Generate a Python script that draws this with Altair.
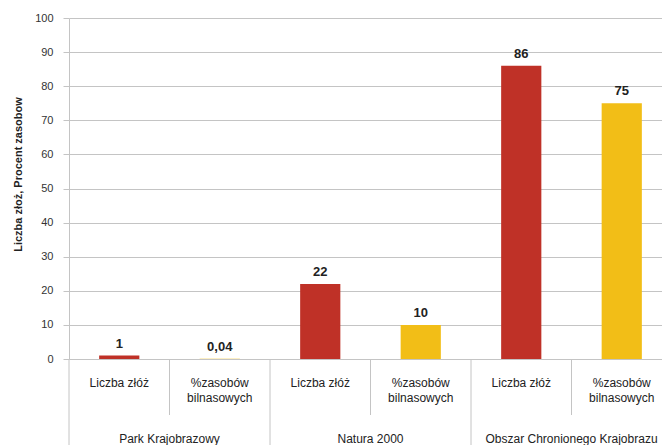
import altair as alt
import pandas as pd

# Data
groups = ["Park Krajobrazowy", "Natura 2000", "Obszar Chronionego Krajobrazu"]
measures = ["Liczba złóż", "%zasobów bilnasowych"]
measure_line1 = ["Liczba złóż", "%zasobów"]
measure_line2 = ["", "bilnasowych"]
values = [
    [1, 0.04],   # Park Krajobrazowy
    [22, 10],    # Natura 2000
    [86, 75],    # Obszar Chronionego Krajobrazu
]
y_ticks = [0, 10, 20, 30, 40, 50, 60, 70, 80, 90, 100]
colors = ["#BF3127", "#F2BE17"]

W, H = 593, 341
UNIT = 100.5  # pixels per category slot
X_MAX = W / UNIT
FONT = "Liberation Sans, Arial, sans-serif"
GRID = "#c4c4c4"

rows = []
for gi, g in enumerate(groups):
    for mi, m in enumerate(measures):
        rows.append({
            "group": g,
            "measure": m,
            "line1": measure_line1[mi],
            "line2": measure_line2[mi],
            "value": values[gi][mi],
            "pos": gi * 2 + mi + 0.5,
        })
df = pd.DataFrame(rows)

group_df = pd.DataFrame({"group": groups, "pos": [1.0, 3.0, 5.0]})
short_sep = pd.DataFrame({"b": [1.0, 3.0, 5.0]})
long_sep = pd.DataFrame({"b": [0.0, 2.0, 4.0]})

xs = alt.Scale(domain=[0, X_MAX], nice=False, zero=False)
ys = alt.Scale(domain=[0, 100], nice=False)

y_axis = alt.Axis(
    values=y_ticks,
    title="Liczba złoż, Procent zasobow",
    titleFont=FONT,
    titleFontSize=11,
    titleFontWeight="bold",
    titleColor="#222222",
    titleX=-51,
    titleY=156,
    titleAngle=-90,
    titleAlign="center",
    titleBaseline="middle",
    labelFont=FONT,
    labelFontSize=11,
    labelColor="#333333",
    labelPadding=10,
    labelOverlap=False,
    tickSize=6,
    tickColor=GRID,
    domainColor=GRID,
    gridColor=GRID,
    grid=True,
)

base = alt.Chart(df)

bars = base.transform_calculate(
    x1="datum.pos - 0.2", x2="datum.pos + 0.2", base="0"
).mark_bar().encode(
    x=alt.X("x1:Q", scale=xs, axis=None),
    x2="x2:Q",
    y=alt.Y("value:Q", scale=ys, axis=y_axis),
    y2="base:Q",
    color=alt.Color(
        "measure:N",
        scale=alt.Scale(domain=measures, range=colors),
        legend=None,
    ),
)

value_labels = base.transform_calculate(
    label="replace(toString(datum.value), '.', ',')"
).mark_text(
    font=FONT, fontSize=13, fontWeight="bold", color="#222222",
    baseline="alphabetic", dy=-8,
).encode(
    x=alt.X("pos:Q", scale=xs, axis=None),
    y=alt.Y("value:Q", scale=ys, axis=y_axis),
    text="label:N",
)

line1_labels = base.mark_text(
    font=FONT, fontSize=12, color="#222222", baseline="middle",
).encode(
    x=alt.X("pos:Q", scale=xs, axis=None),
    y=alt.value(H + 24),
    text="line1:N",
)

line2_labels = base.mark_text(
    font=FONT, fontSize=12, color="#222222", baseline="middle",
).encode(
    x=alt.X("pos:Q", scale=xs, axis=None),
    y=alt.value(H + 39),
    text="line2:N",
)

group_labels = alt.Chart(group_df).mark_text(
    font=FONT, fontSize=12, color="#222222", baseline="middle",
).encode(
    x=alt.X("pos:Q", scale=xs, axis=None),
    y=alt.value(H + 80),
    text="group:N",
)

short_rules = alt.Chart(short_sep).mark_rule(color=GRID, strokeWidth=1).encode(
    x=alt.X("b:Q", scale=xs, axis=None),
    y=alt.value(H),
    y2=alt.value(H + 56),
)

long_rules = alt.Chart(long_sep).mark_rule(color=GRID, strokeWidth=1).encode(
    x=alt.X("b:Q", scale=xs, axis=None),
    y=alt.value(H),
    y2=alt.value(H + 90),
)

chart = alt.layer(
    bars, short_rules, long_rules, value_labels,
    line1_labels, line2_labels, group_labels,
).properties(
    width=W,
    height=H,
    autosize=alt.AutoSizeParams(type="none"),
    padding={"left": 69, "top": 18, "right": 0, "bottom": 86},
    background="white",
).configure_view(
    stroke=None,
)

chart.save("out.html", embed_options={"renderer": "svg", "actions": False})
